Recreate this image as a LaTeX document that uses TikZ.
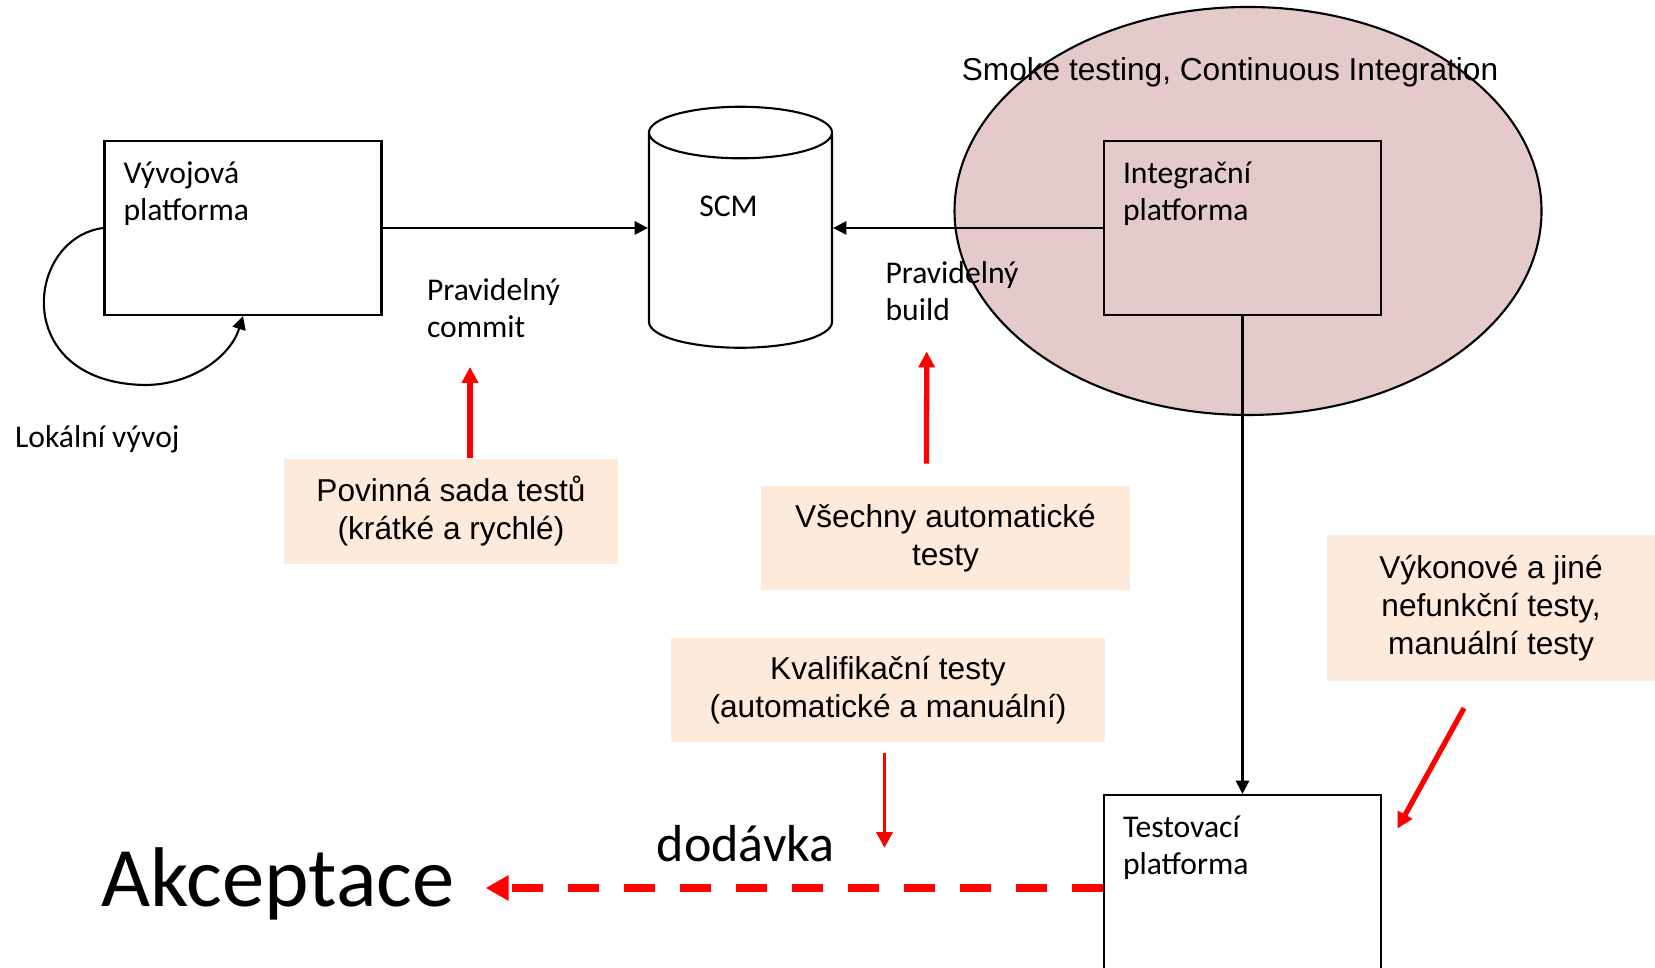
\documentclass[tikz,border=0pt]{standalone}
\usepackage{fontspec}
\setmainfont{Carlito}
\newfontfamily\arialfont{Liberation Sans}
\usetikzlibrary{arrows.meta,shapes.geometric}
\definecolor{cipink}{RGB}{228,202,203}
\definecolor{peach}{RGB}{253,234,218}
\newcommand{\boxfont}{\fontsize{9pt}{10.5pt}\selectfont}
\newcommand{\notefont}{\arialfont\fontsize{9pt}{10.8pt}\selectfont}
\tikzset{
  >={Triangle[length=3.8pt,width=3.8pt]},
  platform/.style = {draw, line width=0.6pt, minimum width=2.77cm, minimum height=1.74cm},
  platlabel/.style = {anchor=north west, align=left, font=\boxfont, inner xsep=0.19cm, inner ysep=0.21cm},
  testnote/.style = {fill=peach, align=center, font=\notefont, minimum height=1.045cm},
  redarrow/.style = {->, >={Triangle[length=4.5pt,width=4.5pt]}, red, line width=1.5pt}
}

\begin{document}
\begin{tikzpicture}[font=\boxfont, line width=0.6pt]
  \useasboundingbox (0,0) rectangle (16.55,9.68);
  % CI area
  \draw[fill=cipink] (12.48,7.57) ellipse [x radius=2.935, y radius=2.04];
  \node[anchor=base, font=\notefont] (smoke) at (12.30,8.87) {Smoke testing, Continuous Integration};
  % platforms and repository
  \node[platform, label={[platlabel]north west:Vývojová\\platforma}] (dev) at (2.43,7.40) {};
  \node[platform, label={[platlabel]north west:Integrační\\platforma}] (integ) at (12.425,7.40) {};
  \node[platform, minimum height=1.86cm, label={[platlabel]north west:Testovací\\platforma}] (test) at (12.425,0.80) {};
  \node[draw, cylinder, shape border rotate=90, aspect=2.2, minimum width=1.83cm, minimum height=2.41cm,
        label={[xshift=-0.12cm, yshift=0.41cm]center:SCM}] (scm) at (7.405,7.21) {};
  % black connectors
  \draw[->] (dev.east) -- (dev.east -| scm.west);
  \draw[->] (integ.west) -- (integ.west -| scm.east);
  \draw[->] (integ.south) -- (test.north);
  \draw[->] (dev.west) .. controls (0.25,7.3) and (0.1,5.85) .. (1.45,5.83)
    .. controls (1.9,5.83) and (2.3,6.1) .. (dev.south);
  \node[anchor=west, inner sep=0] (loc) at (0.14,5.29) {Lokální vývoj};
  \node[anchor=west, align=left, inner sep=0] (commit) at (4.26,6.60) {Pravidelný\\commit};
  \node[anchor=west, align=left, inner sep=0] (build) at (8.845,6.765) {Pravidelný\\build};
  % test suites
  \node[testnote, minimum width=3.345cm] (tests1) at (4.51,4.567) {Povinná sada testů\\(krátké a rychlé)};
  \node[testnote, minimum width=3.69cm] (tests2) at (9.455,4.30) {Všechny automatické\\testy};
  \node[testnote, minimum width=4.34cm] (tests3) at (8.88,2.78) {Kvalifikační testy\\(automatické a manuální)};
  \node[testnote, minimum width=3.28cm, minimum height=1.46cm] (tests4) at (14.91,3.60) {Výkonové a jiné\\nefunkční testy,\\manuální testy};
  \coordinate (ctip) at (4.70,6.01);
  \coordinate (btip) at (9.267,6.165);
  \coordinate (qtip) at (8.845,1.20);
  \coordinate (ptip) at (13.975,1.394);
  \draw[redarrow] ([xshift=0.19cm]tests1.north) -- (ctip);
  \draw[redarrow] ([xshift=-0.19cm,yshift=0.21cm]tests2.north) -- (btip);
  \draw[redarrow, line width=1.1pt] ([xshift=-0.035cm,yshift=-0.1cm]tests3.south) -- (qtip);
  \draw[redarrow] ([xshift=-0.27cm,yshift=-0.26cm]tests4.south) -- (ptip);
  % delivery
  \node[anchor=base west, inner xsep=0.3cm, inner ysep=0, font=\fontsize{24.1pt}{28pt}\selectfont] (acc) at (0.70,0.61) {Akceptace};
  \node[anchor=base, font=\fontsize{14.8pt}{17pt}\selectfont] (deliv) at (7.456,1.06) {dodávka};
  \draw[red, line width=2.2pt, dash pattern=on 0.31cm off 0.25cm, -{Triangle[length=0.23cm,width=0.24cm]}]
    (test.west) -- (test.west -| acc.east);
\end{tikzpicture}
\end{document}
